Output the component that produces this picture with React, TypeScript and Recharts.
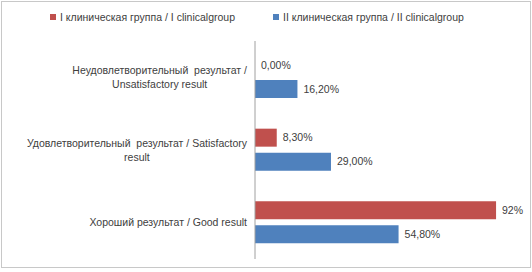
import React from 'react';
import { BarChart, Bar, XAxis, YAxis, LabelList } from 'recharts';

const categories = [
  'Неудовлетворительный  результат /\nUnsatisfactory result',
  'Удовлетворительный  результат / Satisfactory\nresult',
  'Хороший результат / Good result',
];
const group1 = [0, 8.3, 92];
const group2 = [16.2, 29.0, 54.8];
const group1Labels = ['0,00%', '8,30%', '92%'];
const group2Labels = ['16,20%', '29,00%', '54,80%'];
const seriesNames = ['I клиническая группа / I clinicalgroup', 'II клиническая группа / II clinicalgroup'];

const data = categories.map((c, i) => ({
  name: c,
  g1: group1[i],
  g2: group2[i],
  l1: group1Labels[i],
  l2: group2Labels[i],
}));

const FONT = '"Liberation Sans", Arial, sans-serif';
const FS = 10.5;
const TEXT = '#404040';

let ctx: CanvasRenderingContext2D | null = null;
function measure(t: string) {
  if (!ctx) {
    const c = document.createElement('canvas');
    ctx = c.getContext('2d');
  }
  if (!ctx) return t.length * 6;
  ctx.font = `${FS}px ${FONT}`;
  return ctx.measureText(t).width;
}

const Tick = (props: any) => {
  const { x, y, payload } = props;
  const lines: string[] = String(payload.value).split('\n');
  const w = Math.max(...lines.map(measure));
  const cx = x - w / 2;
  const lh = 14;
  const y0 = y - ((lines.length - 1) * lh) / 2;
  return (
    <g>
      {lines.map((l, i) => (
        <text key={i} x={cx} y={y0 + i * lh} dy="0.35em" textAnchor="middle" fontSize={FS} fontFamily={FONT} fill={TEXT} style={{ whiteSpace: 'pre' }}>
          {l}
        </text>
      ))}
    </g>
  );
};

const Legend = () => (
  <div style={{ position: 'absolute', top: 11, left: 0, width: 532, fontFamily: FONT, fontSize: FS, color: TEXT }}>
    <div style={{ position: 'absolute', left: 50, top: 0, display: 'flex', alignItems: 'center', whiteSpace: 'nowrap' }}>
      <span style={{ display: 'inline-block', width: 6, height: 6, background: '#C0504D', marginRight: 4 }} />
      {seriesNames[0]}
    </div>
    <div style={{ position: 'absolute', left: 273, top: 0, display: 'flex', alignItems: 'center', whiteSpace: 'nowrap' }}>
      <span style={{ display: 'inline-block', width: 6, height: 6, background: '#4F81BD', marginRight: 4 }} />
      {seriesNames[1]}
    </div>
  </div>
);

export default function App() {
  return (
    <div style={{ position: 'absolute', left: 0, top: 0, width: 532, height: 272, background: '#fff' }}>
      <div style={{ position: 'absolute', left: 1, top: 1, width: 528, height: 265, border: '1px solid #c8c8c8' }} />
      <Legend />
      <div style={{ position: 'absolute', left: 0, top: 0 }}>
        <BarChart
          width={532}
          height={272}
          data={data}
          layout="vertical"
          margin={{ top: 41, right: 15, bottom: 13, left: 0 }}
          barSize={18}
          barGap={6}
        >
          <XAxis type="number" domain={[0, 100]} hide />
          <YAxis
            type="category"
            dataKey="name"
            width={255}
            tick={<Tick />}
            tickLine={false}
            axisLine={{ stroke: '#a0a0a0' }}
            interval={0}
          />
          <Bar dataKey="g1" fill="#C0504D" isAnimationActive={false} minPointSize={0.01}>
            <LabelList dataKey="l1" position="right" offset={6} fontSize={FS} fontFamily={FONT} fill={TEXT} />
          </Bar>
          <Bar dataKey="g2" fill="#4F81BD" isAnimationActive={false}>
            <LabelList dataKey="l2" position="right" offset={6} fontSize={FS} fontFamily={FONT} fill={TEXT} />
          </Bar>
        </BarChart>
      </div>
    </div>
  );
}
